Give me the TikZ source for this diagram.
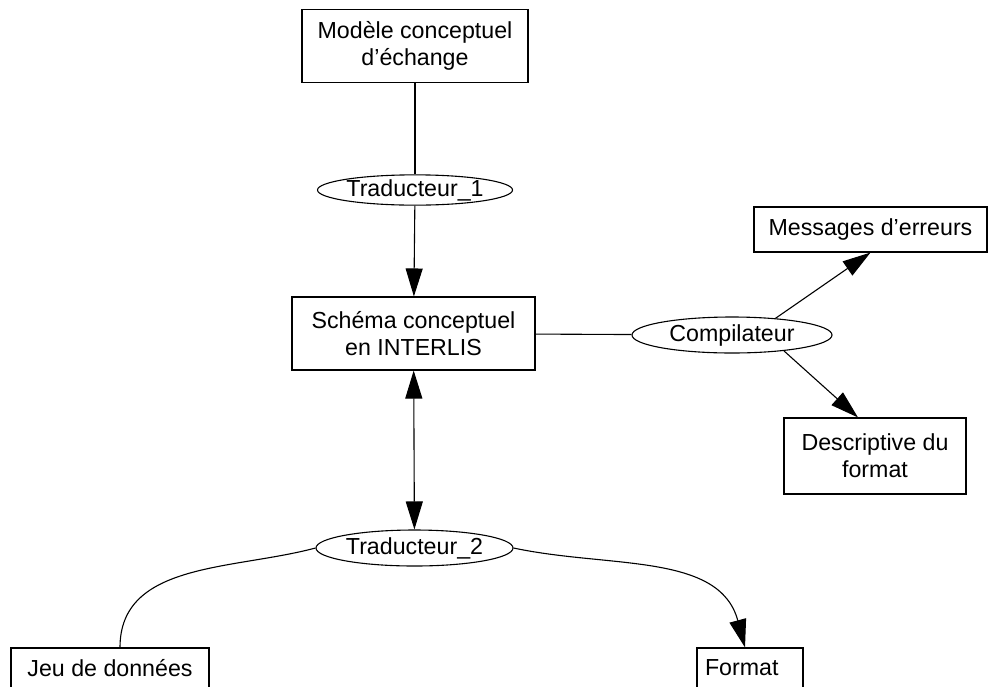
\documentclass[tikz,border=0pt]{standalone}
\usepackage{fontspec}
\setmainfont{Liberation Sans}
\usetikzlibrary{shapes.geometric,arrows.meta,calc}

\begin{document}
\begin{tikzpicture}
[x=0.5pt,y=-0.5pt,
connection/.style={-,line width=0.55pt},
flow/.style={-{Triangle[length=14pt,width=8.5pt]},line width=0.55pt},
box/.style={rectangle,draw=black,line width=0.55pt,align=center,inner sep=0pt,font=\fontsize{11.6}{13.4}\selectfont},
tool/.style={ellipse,draw=black,line width=0.55pt,inner sep=0pt,font=\fontsize{11.6}{13.4}\selectfont}]

\clip (0,0) rectangle (989,686);

% Drawing boxes
\node[box,minimum width=113pt,minimum height=36.5pt] (modele) at (415,46) {Modèle conceptuel\\d’échange};
\node[box,minimum width=121.5pt,minimum height=36.5pt] (schema) at (413.5,333.5) {Schéma conceptuel\\en INTERLIS};
\node[box,minimum width=116.5pt,minimum height=22.5pt] (messages) at (870.5,229.5) {Messages d’erreurs};
\node[box,minimum width=91pt,minimum height=38pt] (descriptive) at (875,456) {Descriptive du\\format};
\node[box,minimum width=99pt,minimum height=20pt] (jeu) at (110,668) {Jeu de données};
\node[box,text width=45pt,inner xsep=4pt,align=left,minimum height=20pt] (format) at (750,668) {Format};

% Drawing tools
\node[tool,minimum width=97.5pt,minimum height=15pt] (trad1) at (415,190) {Traducteur\_1};
\node[tool,minimum width=100pt,minimum height=18pt] (compil) at (732,335) {Compilateur};
\node[tool,minimum width=98.5pt,minimum height=18pt] (trad2) at (414.5,548) {Traducteur\_2};

% Drawing connections
\draw[connection] (modele) -- (trad1);
\draw[flow] (trad1) -- (schema);
\draw[connection] (schema) -- (compil);
\draw[flow] (compil.21) -- (messages.south);
\draw[flow] (compil.-17) -- ($(descriptive.north)+(-17,0)$);
\draw[flow,{Triangle[length=14pt,width=8.5pt]}-{Triangle[length=14pt,width=8.5pt]}] (schema) -- (trad2);
\draw[connection] (trad2.west) to[out=195,in=90] ($(jeu.north)+(10,0)$);
\draw[flow] (trad2.east) to[out=-12,in=105] ($(format.north)+(-5,0)$);
\end{tikzpicture}
\end{document}
